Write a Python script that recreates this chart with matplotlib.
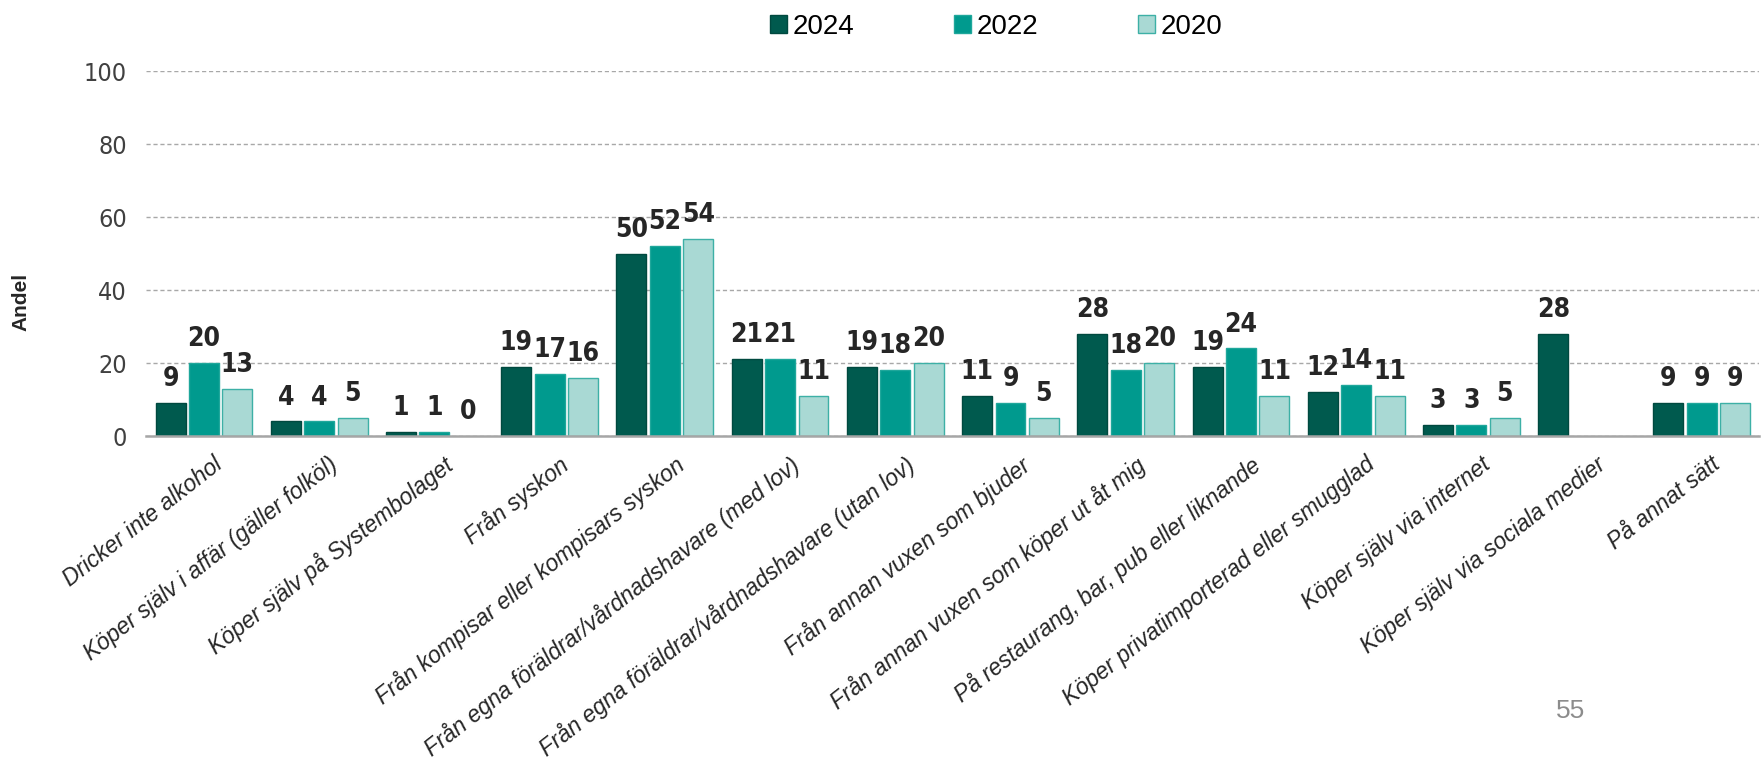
import numpy as np
import matplotlib
matplotlib.use('Agg')
import matplotlib.pyplot as plt
import matplotlib.transforms as mtransforms

CATEGORIES = [
    'Dricker inte alkohol',
    'Köper själv i affär (gäller folköl)',
    'Köper själv på Systembolaget',
    'Från syskon',
    'Från kompisar eller kompisars syskon',
    'Från egna föräldrar/vårdnadshavare (med lov)',
    'Från egna föräldrar/vårdnadshavare (utan lov)',
    'Från annan vuxen som bjuder',
    'Från annan vuxen som köper ut åt mig',
    'På restaurang, bar, pub eller liknande',
    'Köper privatimporterad eller smugglad',
    'Köper själv via internet',
    'Köper själv via sociala medier',
    'På annat sätt',
]

YEARS = ['2024', '2022', '2020']
VALUES_2024 = [9, 4, 1, 19, 50, 21, 19, 11, 28, 19, 12, 3, 28, 9]
VALUES_2022 = [20, 4, 1, 17, 52, 21, 18, 9, 18, 24, 14, 3, None, 9]
VALUES_2020 = [13, 5, 0, 16, 54, 11, 20, 5, 20, 11, 11, 5, None, 9]

FACE_COLORS = ['#005A4E', '#009A8E', '#A9D9D4']
EDGE_COLORS = ['#00493F', '#1FA79B', '#3DB0A6']

NARROW = ['DejaVu Sans', 'Liberation Sans']
ARIAL = ['Liberation Sans', 'DejaVu Sans']

BAR_WIDTH = 0.26
OFFSET = 0.29

fig = plt.figure(figsize=(17.63, 7.65), dpi=100)
ax = fig.add_axes([0.083, 0.430, 0.915, 0.477])

x = np.arange(len(CATEGORIES))
series = [VALUES_2024, VALUES_2022, VALUES_2020]

handles = []
for i, vals in enumerate(series):
    pos = x + (i - 1) * OFFSET
    heights = [np.nan if not v else v for v in vals]
    bars = ax.bar(pos, heights, BAR_WIDTH, color=FACE_COLORS[i],
                  edgecolor=EDGE_COLORS[i], linewidth=1.0, label=YEARS[i],
                  zorder=3)
    handles.append(bars)
    for p, v in zip(pos, vals):
        if v is None:
            continue
        ax.text(p, v + 3.0, str(v), ha='center', va='bottom',
                fontsize=19, fontweight='bold', family=NARROW,
                fontstretch='condensed', color='#262626')

ax.set_xlim(-0.5, len(CATEGORIES) - 0.5)
ax.set_ylim(0, 100)
ax.set_yticks(range(0, 101, 20))
ax.yaxis.grid(True, linestyle=(0, (3, 2)), color='#A8A8A8', linewidth=1.0,
              zorder=0)
ax.tick_params(axis='y', length=0, labelsize=18, labelcolor='#404040', pad=14)
for lbl in ax.get_yticklabels():
    lbl.set_family(NARROW)
    lbl.set_stretch('condensed')

ax.set_xticks(x)
ax.set_xticklabels(CATEGORIES, rotation=38, ha='right', rotation_mode='anchor',
                   fontsize=16.5, style='italic', family=ARIAL,
                   color='#262626')
ax.tick_params(axis='x', length=0, pad=12)
shift = mtransforms.ScaledTranslation(9 / 100, 0, fig.dpi_scale_trans)
for lbl in ax.get_xticklabels():
    lbl.set_transform(lbl.get_transform() + shift)

for side in ['top', 'right', 'left']:
    ax.spines[side].set_visible(False)
ax.spines['bottom'].set_color('#A6A6A6')
ax.spines['bottom'].set_linewidth(1.8)
ax.spines['bottom'].set_zorder(4)

fig.text(0.012, 0.605, 'Andel', rotation=90, ha='center', va='center',
         fontsize=15, fontweight='bold', family=ARIAL, color='#262626')

fig.legend(handles=handles, labels=YEARS, loc='upper center',
           bbox_to_anchor=(0.565, 1.015), ncol=3, frameon=False,
           prop={'family': ARIAL, 'size': 20}, handlelength=0.6,
           handleheight=0.6, handletextpad=0.2, columnspacing=3.6)

fig.text(0.891, 0.07, '55', ha='center', va='center', fontsize=19,
         family=ARIAL, color='#8C8C8C')

fig.savefig('out.png', dpi=100)
